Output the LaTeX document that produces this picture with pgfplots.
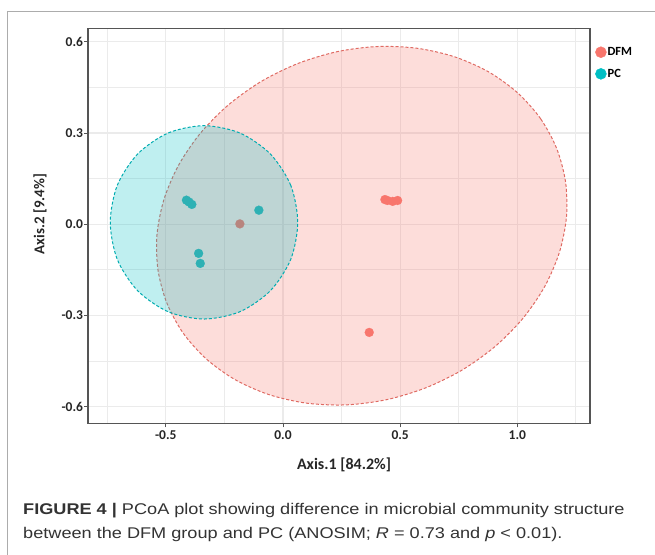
\documentclass[border=0pt]{standalone}
\usepackage{pgfplots}
\pgfplotsset{compat=1.18}
\usepackage{fontspec}
\setmainfont{Carlito}
\newfontfamily\capfont[FakeStretch=1.17]{Liberation Sans}
\definecolor{dfmc}{HTML}{F8766D}
\definecolor{pcc}{HTML}{00BFC4}
\definecolor{pcin}{HTML}{2EB1B4}
\definecolor{dfmin}{HTML}{B8857E}
\definecolor{gridc}{HTML}{EBEBEB}
\definecolor{framec}{HTML}{555555}
\begin{document}
\begin{tikzpicture}
\useasboundingbox (-88pt,-130.7pt) rectangle (567pt,423.3pt);
\begin{axis}[
  at={(0pt,0pt)}, anchor=south west,
  scale only axis, width=502pt, height=394.6pt,
  xmin=-0.832, xmax=1.31, ymin=-0.655, ymax=0.643,
  xtick={-0.5,0,0.5,1.0}, xticklabels={-0.5,0.0,0.5,1.0},
  ytick={-0.6,-0.3,0,0.3,0.6}, yticklabels={-0.6,-0.3,0.0,0.3,0.6},
  minor xtick={-0.75,-0.25,0.25,0.75,1.25},
  minor ytick={-0.45,-0.15,0.15,0.45},
  grid=both,
  major grid style={gridc, line width=1.1pt},
  minor grid style={gridc, line width=0.9pt},
  minor tick length=0pt,
  major tick length=4pt,
  tick align=outside, tick pos=left,
  tick style={framec, line width=0.8pt},
  axis line style={framec, line width=1.3pt},
  ticklabel style={font=\bfseries\fontsize{13.5}{15}\selectfont, text=black!85},
  yticklabel style={xshift=2.5pt},
  xlabel={Axis.1 [84.2\%]}, ylabel={Axis.2 [9.4\%]},
  label style={text=black!85},
  xlabel style={font=\bfseries\fontsize{16}{18}\selectfont, at={(axis description cs:0.51,-0.1183)}, anchor=base},
  ylabel style={font=\bfseries\fontsize{15}{17}\selectfont, at={(axis description cs:-0.0956,0.53)}, anchor=center},
  legend style={at={(rel axis cs:1,1)}, anchor=north west, xshift=5pt, yshift=-17.5pt,
    draw=none, fill=none, inner sep=0pt, row sep=10pt,
    nodes={inner sep=1pt},
    font=\bfseries\fontsize{12.5}{14}\selectfont},
  legend cell align=left,
]
\addplot[forget plot, draw=dfmc!90!black, line width=1pt, dash pattern=on 3pt off 2pt,
  fill=dfmc, fill opacity=0.25, draw opacity=1, smooth cycle]
  coordinates {(1.1686,0.2474) (1.0994,0.3467) (1.0008,0.4323) (0.8767,0.5013) (0.7317,0.5507)
  (0.5717,0.5787) (0.4025,0.5844) (0.2307,0.5674) (0.0631,0.5284) (-0.0941,0.4690)
  (-0.2347,0.3912) (-0.3535,0.2983) (-0.4457,0.1937) (-0.5079,0.0815) (-0.5376,-0.0341)
  (-0.5338,-0.1485) (-0.4966,-0.2574) (-0.4274,-0.3567) (-0.3288,-0.4423) (-0.2047,-0.5113)
  (-0.0597,-0.5607) (0.1003,-0.5887) (0.2695,-0.5944) (0.4413,-0.5774) (0.6089,-0.5384)
  (0.7661,-0.4790) (0.9067,-0.4012) (1.0255,-0.3083) (1.1177,-0.2037) (1.1799,-0.0915)
  (1.2096,0.0241) (1.2058,0.1385)};
\addplot[forget plot, draw=pcc!90!black, line width=1pt, dash pattern=on 3pt off 2pt,
  fill=pcc, fill opacity=0.25, draw opacity=1, smooth cycle]
  coordinates {(0.063,0.006) (0.033,0.128) (-0.054,0.231) (-0.184,0.300) (-0.337,0.324)
  (-0.490,0.300) (-0.620,0.231) (-0.707,0.128) (-0.737,0.006) (-0.707,-0.116)
  (-0.620,-0.219) (-0.490,-0.288) (-0.337,-0.312) (-0.184,-0.288) (-0.054,-0.219) (0.033,-0.116)};
\addplot[only marks, color=dfmc, mark=*, mark size=4.5pt, mark options={solid, fill=dfmc, draw=dfmc, line width=0.2pt},
  legend image code/.code={\fill[dfmc] (5.5pt,0pt) circle (5.5pt);}]
  coordinates {(0.435,0.081) (0.445,0.078) (0.468,0.075) (0.489,0.078) (0.368,-0.356)};
\addlegendentry{DFM}
\addplot[only marks, color=pcin, mark=*, mark size=4.5pt, mark options={solid, fill=pcin, draw=pcin, line width=0.2pt},
  legend image code/.code={\fill[pcc] (5.5pt,0pt) circle (5.5pt);}]
  coordinates {(-0.412,0.079) (-0.401,0.073) (-0.389,0.065) (-0.103,0.046) (-0.360,-0.096) (-0.353,-0.129)};
\addlegendentry{PC}
\addplot[forget plot, only marks, color=dfmin, mark=*, mark size=4.5pt, mark options={solid, fill=dfmin, draw=dfmin, line width=0.2pt}]
  coordinates {(-0.184,0.001)};
\end{axis}
\draw[gray!65, line width=1.3pt] (570pt,411.8pt) -- (-80.5pt,411.8pt) -- (-80.5pt,-135pt);
\node[anchor=base west, inner sep=0pt, text=black!80, font=\capfont\fontsize{15.5}{18}\selectfont] at (-65pt,-90.7pt)
  {{\bfseries FIGURE 4 |} PCoA plot showing difference in microbial community structure};
\node[anchor=base west, inner sep=0pt, text=black!80, font=\capfont\fontsize{15.5}{18}\selectfont] at (-65pt,-115.2pt)
  {between the DFM group and PC (ANOSIM; {\itshape R} = 0.73 and {\itshape p} < 0.01).};
\end{tikzpicture}
\end{document}
